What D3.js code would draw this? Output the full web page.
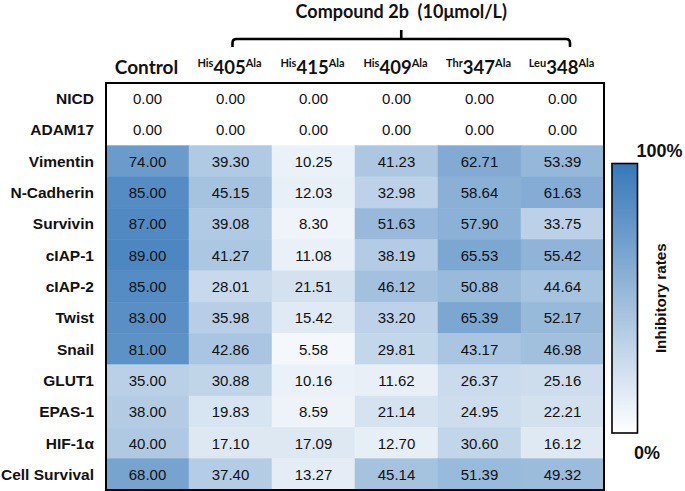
<!DOCTYPE html>
<html>
<head>
<meta charset="utf-8">
<script src="https://cdn.jsdelivr.net/npm/d3@7"></script>
<style>
html,body{margin:0;padding:0;background:#fff;}
svg{display:block;}
</style>
</head>
<body>
<svg id="chart" width="685" height="491"></svg>
<script>
// ---- data ----
const rows = ["NICD","ADAM17","Vimentin","N-Cadherin","Survivin","cIAP-1","cIAP-2","Twist","Snail","GLUT1","EPAS-1","HIF-1α","Cell Survival"];
const columns = ["Control","His405Ala","His415Ala","His409Ala","Thr347Ala","Leu348Ala"];
const colPrefix = ["", "His", "His", "His", "Thr", "Leu"];
const colNumber = ["Control", "405", "415", "409", "347", "348"];
const colSuffix = ["", "Ala", "Ala", "Ala", "Ala", "Ala"];
const control   = [0,0,74.00,85.00,87.00,89.00,85.00,83.00,81.00,35.00,38.00,40.00,68.00];
const his405    = [0,0,39.30,45.15,39.08,41.27,28.01,35.98,42.86,30.88,19.83,17.10,37.40];
const his415    = [0,0,10.25,12.03,8.30,11.08,21.51,15.42,5.58,10.16,8.59,17.09,13.27];
const his409    = [0,0,41.23,32.98,51.63,38.19,46.12,33.20,29.81,11.62,21.14,12.70,45.14];
const thr347    = [0,0,62.71,58.64,57.90,65.53,50.88,65.39,43.17,26.37,24.95,30.60,51.39];
const leu348    = [0,0,53.39,61.63,33.75,55.42,44.64,52.17,46.98,25.16,22.21,16.12,49.32];
const seriesValues = [control, his405, his415, his409, thr347, leu348];
const titleText = "Compound 2b\u00a0\u00a0(10μmol/L)";
const legendTicks = ["0%", "100%"];
const legendTitle = "Inhibitory rates";

// ---- build cells ----
const cells = [];
columns.forEach((c, ci) => rows.forEach((r, ri) => cells.push({col: c, row: r, v: seriesValues[ci][ri]})));

const ARIAL = "'Liberation Sans', Arial, sans-serif";
const CAL = "Lato, 'Open Sans', sans-serif";

const svg = d3.select("#chart");
const x = d3.scaleBand().domain(columns).range([106, 604]);
const y = d3.scaleBand().domain(rows).range([83, 490]);
const color = d3.scaleLinear().domain([0, 100]).range(["#ffffff", "#3778b9"]).interpolate(d3.interpolateRgb);

// cells
svg.append("g").selectAll("rect").data(cells).join("rect")
  .attr("x", d => x(d.col)).attr("y", d => y(d.row))
  .attr("width", x.bandwidth()).attr("height", y.bandwidth())
  .attr("fill", d => color(d.v))
  .attr("stroke", d => color(d.v)).attr("stroke-width", 0.5);

// values
svg.append("g").selectAll("text").data(cells).join("text")
  .attr("x", d => x(d.col) + x.bandwidth()/2)
  .attr("y", d => y(d.row) + y.bandwidth()/2 + 5.5)
  .attr("text-anchor", "middle")
  .style("font-family", ARIAL)
  .attr("font-size", 15)
  .attr("fill", "#111")
  .text(d => d.v.toFixed(2));

// table border
svg.append("rect").attr("x", 106).attr("y", 83).attr("width", 604-106).attr("height", 490-83)
  .attr("fill", "none").attr("stroke", "#000").attr("stroke-width", 2);

// row labels
svg.append("g").selectAll("text").data(rows).join("text")
  .attr("x", 94).attr("y", d => y(d) + y.bandwidth()/2 + 5.5)
  .attr("text-anchor", "end")
  .style("font-family", ARIAL)
  .attr("font-weight", "bold")
  .attr("font-size", 15.5)
  .attr("fill", "#111")
  .text(d => d);

// column headers
const hdr = svg.append("g").style("font-family", CAL).attr("font-weight", "bold").attr("fill", "#111");
columns.forEach((c, i) => {
  const t = hdr.append("text").attr("x", x(c) + x.bandwidth()/2 - 1).attr("y", 73.5).attr("text-anchor", "middle");
  if (colPrefix[i]) {
    t.append("tspan").attr("font-size", 11).attr("dy", -7).text(colPrefix[i]);
    t.append("tspan").attr("font-size", 18.5).attr("dy", 7).text(colNumber[i]);
    t.append("tspan").attr("font-size", 11).attr("dy", -7).text(colSuffix[i]);
  } else {
    t.append("tspan").attr("font-size", 19).text(colNumber[i]);
  }
});

// bracket
const bx0 = x(columns[1]) + x.bandwidth()/2 + 2;
const bx1 = x(columns[5]) + x.bandwidth()/2 + 7.5;
const by = 39, bEnd = 47, r = 4;
const bmid = (bx0 + bx1) / 2;
svg.append("path")
  .attr("d", `M${bx0},${bEnd} L${bx0},${by+r} Q${bx0},${by} ${bx0+r},${by} L${bx1-r},${by} Q${bx1},${by} ${bx1},${by+r} L${bx1},${bEnd} M${bmid},${by} L${bmid},30`)
  .attr("fill", "none").attr("stroke", "#000").attr("stroke-width", 2.6);

svg.append("text").attr("x", bmid).attr("y", 18).attr("text-anchor", "middle")
  .style("font-family", CAL).attr("font-weight", "bold")
  .attr("font-size", 18).attr("fill", "#111").text(titleText);

// colour legend
const defs = svg.append("defs");
const grad = defs.append("linearGradient").attr("id", "lg").attr("x1", 0).attr("y1", 1).attr("x2", 0).attr("y2", 0);
d3.range(0, 101, 10).forEach(v => grad.append("stop").attr("offset", v/100).attr("stop-color", color(v)));
const ly = d3.scaleLinear().domain([0, 100]).range([433, 163.5]);
svg.append("rect").attr("x", 612).attr("y", ly(100)).attr("width", 25.5).attr("height", ly(0) - ly(100))
  .attr("fill", "url(#lg)").attr("stroke", "#000").attr("stroke-width", 1.6);

const lg = svg.append("g").style("font-family", ARIAL).attr("font-weight", "bold").attr("fill", "#111");
lg.append("text").attr("x", 659.5).attr("y", ly(100) - 6.5).attr("text-anchor", "middle").attr("font-size", 18).text(legendTicks[1]);
lg.append("text").attr("x", 647).attr("y", ly(0) + 25.5).attr("text-anchor", "middle").attr("font-size", 18).text(legendTicks[0]);
lg.append("text").attr("transform", `translate(665.5,${(ly(0)+ly(100))/2}) rotate(-90)`)
  .attr("text-anchor", "middle").attr("font-size", 15.2).text(legendTitle);
</script>
</body>
</html>
